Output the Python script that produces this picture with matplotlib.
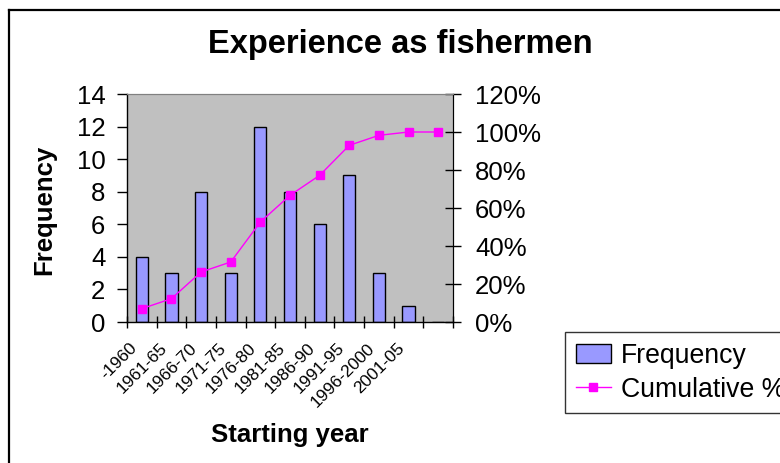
import matplotlib
matplotlib.use("Agg")
import matplotlib.pyplot as plt
from matplotlib.lines import Line2D
from matplotlib.patches import Patch
from matplotlib.transforms import ScaledTranslation

plt.rcParams["font.family"] = ["Liberation Sans", "DejaVu Sans"]

# Histogram bins (last slot is the empty overflow bin)
categories = ["-1960", "1961-65", "1966-70", "1971-75", "1976-80", "1981-85",
              "1986-90", "1991-95", "1996-2000", "2001-05", ""]
frequency = [4, 3, 8, 3, 12, 8, 6, 9, 3, 1, 0]
cumulative_pct = [7.02, 12.28, 26.32, 31.58, 52.63, 66.67, 77.19, 92.98, 98.25, 100.0, 100.0]

left_ticks = [0, 2, 4, 6, 8, 10, 12, 14]
right_ticks = [0, 20, 40, 60, 80, 100, 120]
right_labels = [f"{v}%" for v in right_ticks]

W, H = 780, 463
fig = plt.figure(figsize=(W / 100, H / 100), dpi=100)
fig.patch.set_facecolor("white")

# outer chart frame (runs off the right and bottom edges)
fx = 8.5 / W
fy = 1 - 10 / H
fig.add_artist(Line2D([fx, fx], [0, fy], transform=fig.transFigure, color="black", lw=1.6))
fig.add_artist(Line2D([fx, 1], [fy, fy], transform=fig.transFigure, color="black", lw=1.6))

ax = fig.add_axes([127 / W, 1 - 322 / H, (453 - 127) / W, (322 - 94) / H])
ax.set_facecolor("#C0C0C0")

x = list(range(len(categories)))
ax.bar(x, frequency, width=0.41, color="#9999FF", edgecolor="black", linewidth=1.0, zorder=2)

ax.set_xlim(-0.5, len(categories) - 0.5)
ax.set_ylim(0, 14)
ax.set_yticks(left_ticks)
ax.set_yticklabels([str(v) for v in left_ticks], fontsize=18.5)
ax.tick_params(axis="y", direction="out", length=7.5, width=1, pad=8)

# category boundaries as tick marks, labels at bin centres
ax.set_xticks([i - 0.5 for i in range(len(categories) + 1)])
ax.set_xticklabels([])
ax.tick_params(axis="x", which="major", direction="inout", length=8, width=1)
ax.set_xticks(x, minor=True)
ax.set_xticklabels(categories, minor=True, rotation=45, ha="right", va="center",
                   rotation_mode="anchor", fontsize=12.5)
ax.tick_params(axis="x", which="minor", length=0, pad=17)
shift = ScaledTranslation(-7 / 100, 0, fig.dpi_scale_trans)
for lbl in ax.get_xticklabels(minor=True):
    lbl.set_transform(lbl.get_transform() + shift)

for side in ("left", "bottom"):
    ax.spines[side].set_color("black")
    ax.spines[side].set_linewidth(1.0)
ax.spines["top"].set_color("#808080")
ax.spines["right"].set_color("black")

ax2 = ax.twinx()
ax2.plot(x, cumulative_pct, color="#FF00FF", lw=1.0, marker="s",
         markersize=5.5, markerfacecolor="#FF00FF", markeredgecolor="#FF00FF", zorder=3)
ax2.set_ylim(0, 120)
ax2.set_yticks(right_ticks)
ax2.set_yticklabels(right_labels, fontsize=18.5)
ax2.tick_params(axis="y", direction="inout", length=12, width=1, pad=10)
ax2.spines["right"].set_color("black")
ax2.spines["top"].set_color("#808080")
ax2.spines["left"].set_visible(False)
ax2.spines["bottom"].set_visible(False)

fig.text(400 / W, 1 - 44 / H, "Experience as fishermen", fontsize=23.5, fontweight="bold",
         ha="center", va="center")
fig.text(44 / W, 1 - 210 / H, "Frequency", fontsize=18.5, fontweight="bold",
         ha="center", va="center", rotation=90)
fig.text(290 / W, 1 - 435 / H, "Starting year", fontsize=18.5, fontweight="bold",
         ha="center", va="center")

handles = [Patch(facecolor="#9999FF", edgecolor="black", linewidth=1.0, label="Frequency"),
           Line2D([], [], color="#FF00FF", lw=1.0, marker="s", markersize=5.5,
                  markerfacecolor="#FF00FF", markeredgecolor="#FF00FF", label="Cumulative %")]
leg = fig.legend(handles=handles, loc="upper left", bbox_to_anchor=(565 / W, 1 - 332 / H),
                 borderaxespad=0, fontsize=19.2, frameon=True, fancybox=False,
                 edgecolor="black", handlelength=1.32, handletextpad=0.38,
                 labelspacing=0.3, borderpad=0.4)
leg.get_frame().set_linewidth(1.0)

fig.savefig("out.png", dpi=100)
